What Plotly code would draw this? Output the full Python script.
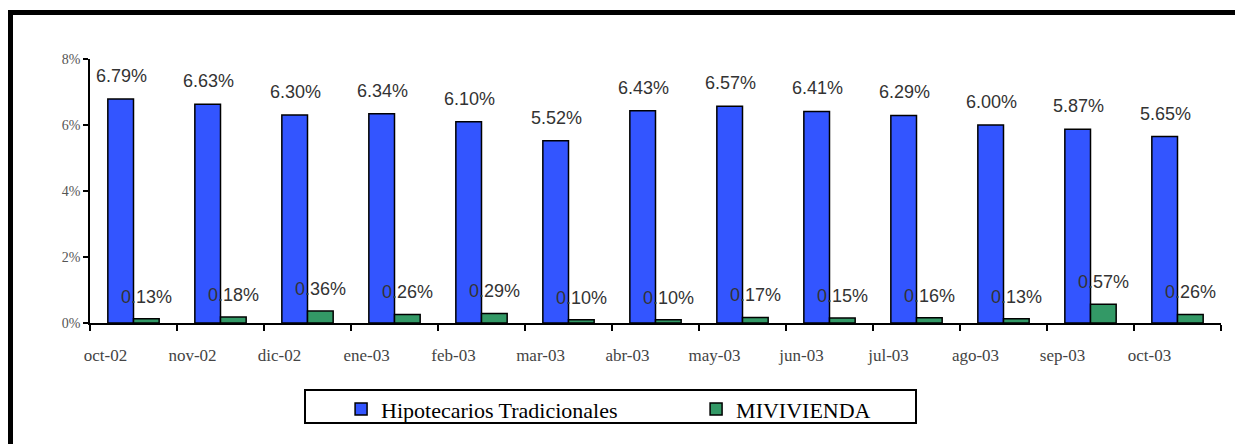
import plotly.graph_objects as go

months = ["oct-02", "nov-02", "dic-02", "ene-03", "feb-03", "mar-03", "abr-03",
          "may-03", "jun-03", "jul-03", "ago-03", "sep-03", "oct-03"]
hipotecarios = [6.79, 6.63, 6.30, 6.34, 6.10, 5.52, 6.43, 6.57, 6.41, 6.29, 6.00, 5.87, 5.65]
mivivienda = [0.13, 0.18, 0.36, 0.26, 0.29, 0.10, 0.10, 0.17, 0.15, 0.16, 0.13, 0.57, 0.26]
y_ticks = [0, 2, 4, 6, 8]
y_tick_labels = ["0%", "2%", "4%", "6%", "8%"]

BLUE = "#3355FF"
GREEN = "#339966"
SERIF = "Liberation Serif, Times New Roman, serif"
SANS = "Liberation Sans, Arial, sans-serif"

fig = go.Figure()
fig.add_trace(go.Bar(name="Hipotecarios Tradicionales", x=months, y=hipotecarios,
                     marker=dict(color=BLUE, line=dict(color="black", width=1.5))))
fig.add_trace(go.Bar(name="MIVIVIENDA", x=months, y=mivivienda,
                     marker=dict(color=GREEN, line=dict(color="black", width=1.5))))

annotations = []
for m, v in zip(months, hipotecarios):
    annotations.append(dict(x=m, y=v, text=f"{v:.2f}%", showarrow=False,
                            xanchor="center", yanchor="bottom", xshift=-12.5, yshift=11,
                            font=dict(family=SANS, size=18, color="#333333")))
for m, v in zip(months, mivivienda):
    annotations.append(dict(x=m, y=v, text=f"{v:.2f}%", showarrow=False,
                            xanchor="center", yanchor="bottom", xshift=13, yshift=10,
                            font=dict(family=SANS, size=18, color="#333333")))

shapes = [
    # outer frame
    dict(type="rect", xref="paper", yref="paper", xsizemode="pixel", ysizemode="pixel",
         xanchor=0, yanchor=1, x0=-79.5, x1=1200, y0=46.5, y1=-420,
         line=dict(color="black", width=5), fillcolor="rgba(0,0,0,0)", layer="above"),
    # legend box
    dict(type="rect", xref="paper", yref="paper", xsizemode="pixel", ysizemode="pixel",
         xanchor=0, yanchor=0, x0=215, x1=826, y0=-67, y1=-100,
         line=dict(color="black", width=2), fillcolor="white", layer="below"),
]

fig.update_layout(
    width=1235, height=444,
    margin=dict(l=90, r=14, t=59, b=121),
    paper_bgcolor="white", plot_bgcolor="white",
    barmode="group", bargap=0.41, bargroupgap=0,
    showlegend=True,
    legend=dict(orientation="h", x=0.222, xanchor="left", y=-0.247, yanchor="top",
                bgcolor="rgba(0,0,0,0)", borderwidth=0, entrywidth=310,
                font=dict(family=SERIF, size=22, color="black")),
    annotations=annotations,
    shapes=shapes,
    xaxis=dict(type="category", showline=True, linecolor="black", linewidth=1.5,
               ticks="outside", tickson="boundaries", ticklen=6, tickwidth=1.5,
               tickcolor="black", showgrid=False, ticklabelstandoff=16,
               ticklabelshift=-28,
               tickfont=dict(family=SERIF, size=17, color="#444444")),
    yaxis=dict(range=[0, 8], tickmode="array", tickvals=y_ticks, ticktext=y_tick_labels,
               showline=True, linecolor="black", linewidth=1.5, ticks="outside", ticklen=5,
               tickwidth=1.5, tickcolor="black", showgrid=False, zeroline=False,
               tickfont=dict(family=SERIF, size=14, color="#555555")),
)

fig.write_html("out.html")
